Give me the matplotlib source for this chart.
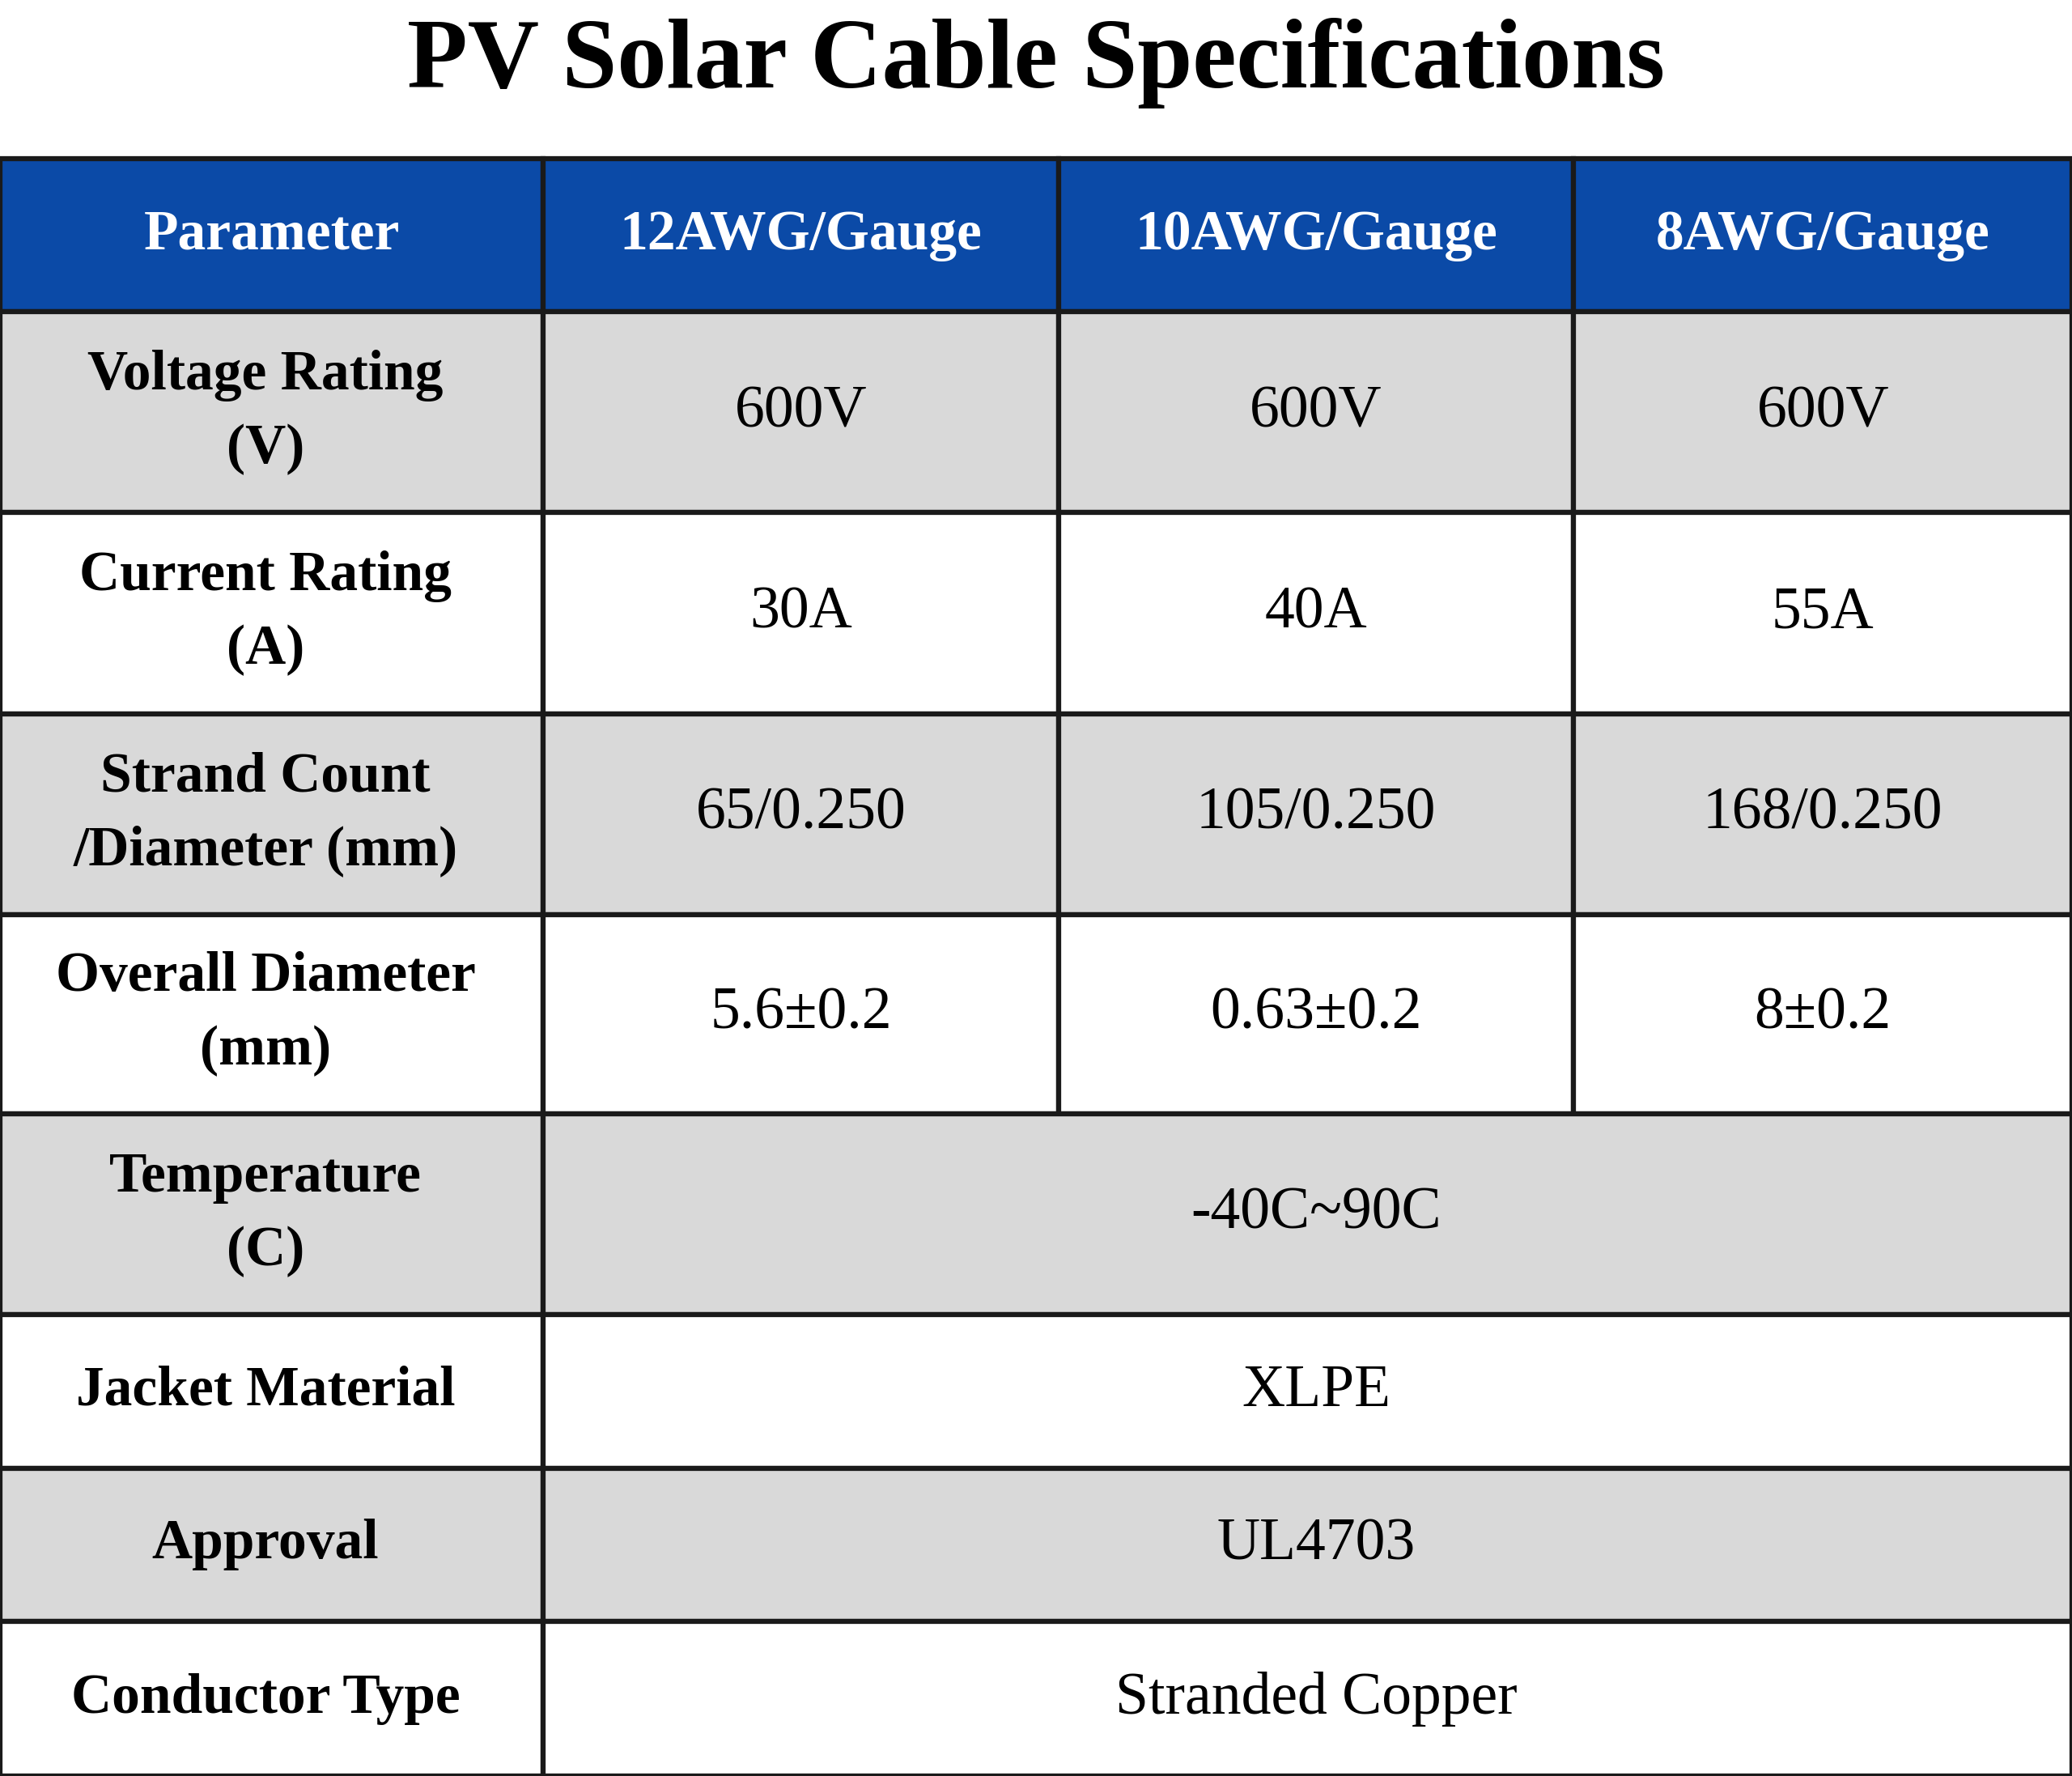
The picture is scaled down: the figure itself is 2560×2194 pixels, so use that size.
import matplotlib
matplotlib.use("Agg")
import matplotlib.pyplot as plt
from matplotlib.patches import Rectangle

title = "PV Solar Cable Specifications"
headers = ["Parameter", "12AWG/Gauge", "10AWG/Gauge", "8AWG/Gauge"]
params = ["Voltage Rating\n(V)", "Current Rating\n(A)", "Strand Count\n/Diameter (mm)",
          "Overall Diameter\n(mm)", "Temperature\n(C)", "Jacket Material", "Approval", "Conductor Type"]
awg12 = ["600V", "30A", "65/0.250", "5.6±0.2"]
awg10 = ["600V", "40A", "105/0.250", "0.63±0.2"]
awg8 = ["600V", "55A", "168/0.250", "8±0.2"]
shared = ["-40C~90C", "XLPE", "UL4703", "Stranded Copper"]

col_edges = [0, 411, 801, 1191, 1568]
row_edges = [120, 236, 388, 540, 692, 843, 995, 1111, 1227, 1344]

fig = plt.figure(figsize=(25.6, 21.94), dpi=100)
ax = fig.add_axes([0, 0, 1, 1])
ax.set_xlim(0, 1568); ax.set_ylim(1344, 0); ax.axis("off")
serif = "Liberation Serif"
blue = "#0b4aa7"; gray = "#d9d9d9"

ax.text(784, 48, title, ha="center", va="center", fontsize=88, fontweight="bold", family=serif)

def cell(x0, x1, y0, y1, color):
    ax.add_patch(Rectangle((x0, y0), x1 - x0, y1 - y0, facecolor=color, edgecolor="#1a1a1a", lw=4.5))

# header
for i, h in enumerate(headers):
    x0, x1 = col_edges[i], col_edges[i + 1]
    cell(x0, x1, row_edges[0], row_edges[1], blue)
    ax.text((x0 + x1) / 2, (row_edges[0] + row_edges[1]) / 2, h, ha="center", va="center",
            color="white", fontsize=50, fontweight="bold", family=serif)

for r, p in enumerate(params):
    y0, y1 = row_edges[r + 1], row_edges[r + 2]
    color = gray if r % 2 == 0 else "white"
    cy = (y0 + y1) / 2
    cell(col_edges[0], col_edges[1], y0, y1, color)
    ax.text(201, cy, p, ha="center", va="center", fontsize=50, fontweight="bold",
            family=serif, linespacing=1.55)
    if r < len(awg12):
        for c, vals in enumerate([awg12, awg10, awg8]):
            x0, x1 = col_edges[c + 1], col_edges[c + 2]
            cell(x0, x1, y0, y1, color)
            ax.text((x0 + x1) / 2, cy, vals[r], ha="center", va="center", fontsize=53, family=serif)
    else:
        x0, x1 = col_edges[1], col_edges[4]
        cell(x0, x1, y0, y1, color)
        ax.text(996, cy, shared[r - len(awg12)], ha="center", va="center", fontsize=53, family=serif)

fig.savefig("out.png", dpi=100)
